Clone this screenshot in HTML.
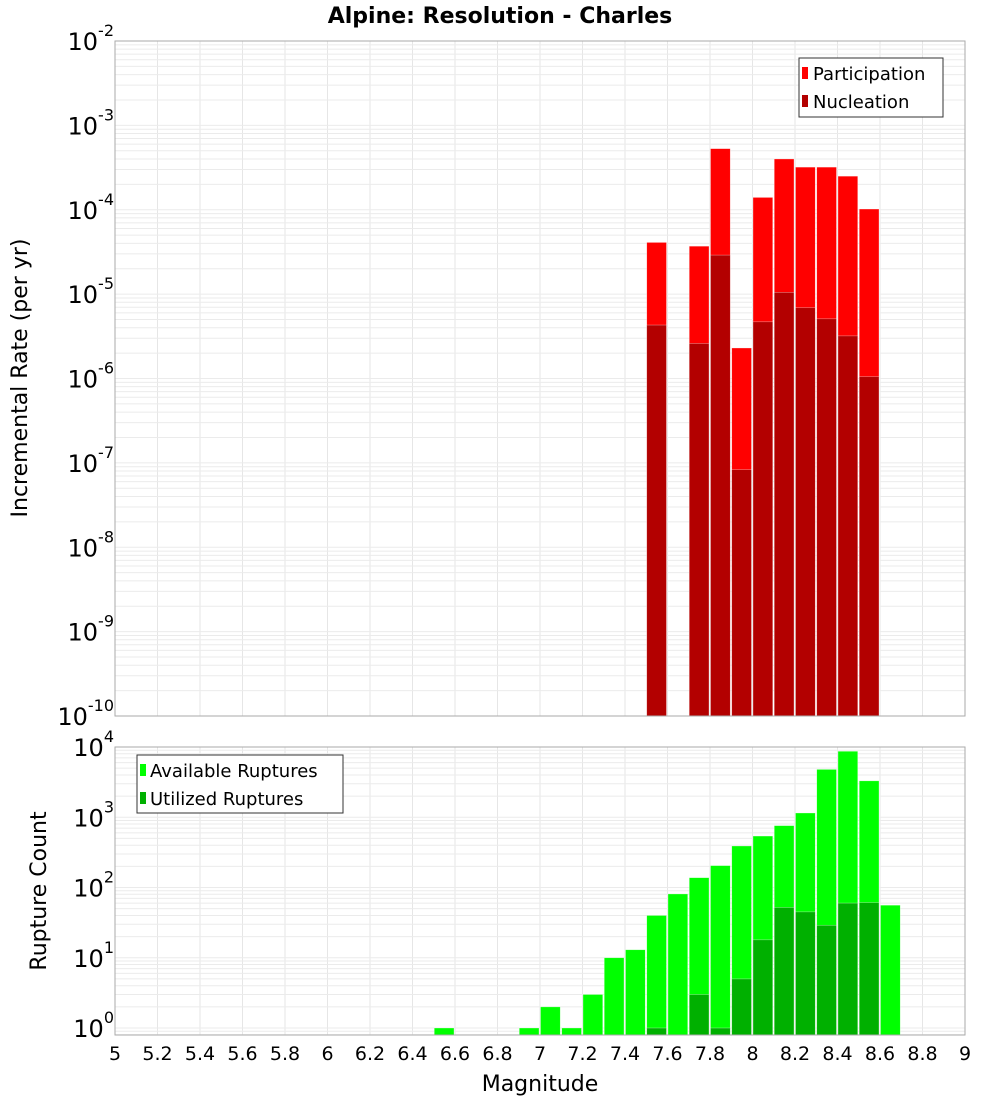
<!DOCTYPE html>
<html><head><meta charset="utf-8">
<style>
html,body{margin:0;padding:0;background:#fff;}
svg{display:block;font-family:"DejaVu Sans","Liberation Sans",sans-serif;}
</style></head>
<body>
<svg id="chart" width="1000" height="1100" viewBox="0 0 1000 1100" xmlns="http://www.w3.org/2000/svg">
<text x="500" y="23" text-anchor="middle" font-size="22" font-weight="bold">Alpine: Resolution - Charles</text>
<g id="top-grid"></g>
<g id="bot-grid"></g>
<g id="top-bars"></g>
<g id="bot-bars"></g>
<rect x="115" y="41" width="850" height="675" fill="none" stroke="#aaa" stroke-width="1"/>
<rect x="115" y="747" width="850" height="288" fill="none" stroke="#aaa" stroke-width="1"/>
<g id="top-yticks"></g>
<g id="bot-yticks"></g>
<g id="xticks"></g>
<text transform="translate(27,378) rotate(-90)" text-anchor="middle" font-size="22">Incremental Rate (per yr)</text>
<text transform="translate(46,891) rotate(-90)" text-anchor="middle" font-size="22">Rupture Count</text>
<text x="540" y="1091" text-anchor="middle" font-size="22">Magnitude</text>
<g>
<rect x="799" y="58" width="144" height="59" fill="#fff" stroke="#333" stroke-width="1"/>
<rect x="802" y="67" width="6" height="12" fill="#ff0000"/>
<text x="813" y="80" font-size="18">Participation</text>
<rect x="802" y="95" width="6" height="12" fill="#b30000"/>
<text x="813" y="108" font-size="18">Nucleation</text>
</g>
<g>
<rect x="137" y="755" width="206" height="58" fill="#fff" stroke="#333" stroke-width="1"/>
<rect x="140" y="764" width="6" height="12" fill="#00ff00"/>
<text x="150" y="777" font-size="18">Available Ruptures</text>
<rect x="140" y="792" width="6" height="12" fill="#00b000"/>
<text x="150" y="805" font-size="18">Utilized Ruptures</text>
</g>
</svg>
<script>
// Data
const topBins = [7.5, 7.7, 7.8, 7.9, 8.0, 8.1, 8.2, 8.3, 8.4, 8.5];
const participation = [4.1e-5, 3.7e-5, 5.3e-4, 2.3e-6, 1.4e-4, 4.0e-4, 3.2e-4, 3.2e-4, 2.5e-4, 1.02e-4];
const nucleation = [4.3e-6, 2.6e-6, 2.9e-5, 8.3e-8, 4.7e-6, 1.05e-5, 6.9e-6, 5.1e-6, 3.2e-6, 1.05e-6];
const availBins = [6.5, 6.9, 7.0, 7.1, 7.2, 7.3, 7.4, 7.5, 7.6, 7.7, 7.8, 7.9, 8.0, 8.1, 8.2, 8.3, 8.4, 8.5, 8.6];
const available = [1, 1, 2, 1, 3, 10, 13, 40, 81, 138, 205, 390, 540, 760, 1150, 4800, 8700, 3300, 56];
const utilBins = [7.5, 7.7, 7.8, 7.9, 8.0, 8.1, 8.2, 8.3, 8.4, 8.5];
const utilized = [1, 3, 1, 5, 18, 52, 45, 29, 60, 61];
const xTicks = [5,5.2,5.4,5.6,5.8,6,6.2,6.4,6.6,6.8,7,7.2,7.4,7.6,7.8,8,8.2,8.4,8.6,8.8,9];
const xTickLabels = ["5","5.2","5.4","5.6","5.8","6","6.2","6.4","6.6","6.8","7","7.2","7.4","7.6","7.8","8","8.2","8.4","8.6","8.8","9"];
const topExps = [-2,-3,-4,-5,-6,-7,-8,-9,-10];
const botExps = [4,3,2,1,0];

const NS = "http://www.w3.org/2000/svg";
const X0 = 115, X1 = 965, XMIN = 5, XMAX = 9;
const xs = v => X0 + (v - XMIN) / (XMAX - XMIN) * (X1 - X0);
const T0 = 41, T1 = 716, TMAXE = -2, TMINE = -10;
const yTop = v => T0 + (TMAXE - Math.log10(v)) / (TMAXE - TMINE) * (T1 - T0);
const B0 = 747, B1 = 1035, BMAXE = 4, BDEC = 70.25;
const yBot = v => B0 + (BMAXE - Math.log10(v)) * BDEC;
const BW = xs(XMIN + 0.1) - xs(XMIN);

function mk(tag, attrs, parent) {
  const e = document.createElementNS(NS, tag);
  for (const k in attrs) e.setAttribute(k, attrs[k]);
  parent.appendChild(e);
  return e;
}
// grids
const tg = document.getElementById('top-grid'), bg = document.getElementById('bot-grid');
for (let v = 5.2; v < 8.95; v += 0.2) {
  const x = xs(v);
  const l1 = mk('line', {x1:x, x2:x, y1:T0, y2:T1, stroke:'#e6e6e6'}, tg);
  
  
  const l2 = mk('line', {x1:x, x2:x, y1:B0, y2:B1, stroke:'#e6e6e6'}, bg);
  
  
}
for (let e = TMINE; e < TMAXE; e++) for (let m = 1; m < 10; m++) {
  const y = yTop(m * Math.pow(10, e));
  if (y <= T0 || y >= T1) continue;
  const l = mk('line', {x1:X0, x2:X1, y1:y, y2:y, stroke:'#ebebeb'}, tg);
  
  
}
for (let e = -1; e < BMAXE; e++) for (let m = 1; m < 10; m++) {
  const y = yBot(m * Math.pow(10, e));
  if (y <= B0 || y >= B1) continue;
  const l = mk('line', {x1:X0, x2:X1, y1:y, y2:y, stroke:'#ebebeb'}, bg);
  
  
}
// bars
function bar(parent, bin, top, base, fill, name) {
  const x = xs(bin);
  const r = mk('rect', {x:x + 0.5, y:top, width:BW - 1.5, height:Math.max(0, base - top), fill:fill, stroke:'rgba(255,255,255,0.5)', 'stroke-width':0.6}, parent);
  
  
}
const tb = document.getElementById('top-bars'), bb = document.getElementById('bot-bars');
topBins.forEach((b, i) => bar(tb, b, yTop(participation[i]), T1, '#ff0000', 'participation-bar'));
topBins.forEach((b, i) => bar(tb, b, yTop(nucleation[i]), T1, '#b30000', 'nucleation-bar'));
availBins.forEach((b, i) => bar(bb, b, yBot(available[i]), B1, '#00ff00', 'available-bar'));
utilBins.forEach((b, i) => bar(bb, b, yBot(utilized[i]), B1, '#00b000', 'utilized-bar'));
// y tick labels
function ylab(parent, y, e, name) {
  const t = mk('text', {x:110, y:y + 9, 'text-anchor':'end', 'font-size':24}, parent);
  
  
  t.textContent = '10';
  const s = document.createElementNS(NS, 'tspan');
  s.setAttribute('dy', '-14');
  s.setAttribute('font-size', '16');
  s.textContent = String(e);
  t.appendChild(s);
  // shift so exponent end aligns at 110
  t.setAttribute('text-anchor', 'start');
  const w = t.getComputedTextLength();
  t.setAttribute('x', 114 - w);
}
const tyt = document.getElementById('top-yticks'), byt = document.getElementById('bot-yticks');
topExps.forEach(e => ylab(tyt, yTop(Math.pow(10, e)), e, 'top-y-tick-label'));
botExps.forEach(e => ylab(byt, yBot(Math.pow(10, e)), e, 'bottom-y-tick-label'));
// x ticks
const xt = document.getElementById('xticks');
xTicks.forEach((v, i) => {
  const t = mk('text', {x:xs(v), y:1060, 'text-anchor':'middle', 'font-size':19}, xt);
  
  
  t.textContent = xTickLabels[i];
});
</script>
</body></html>
